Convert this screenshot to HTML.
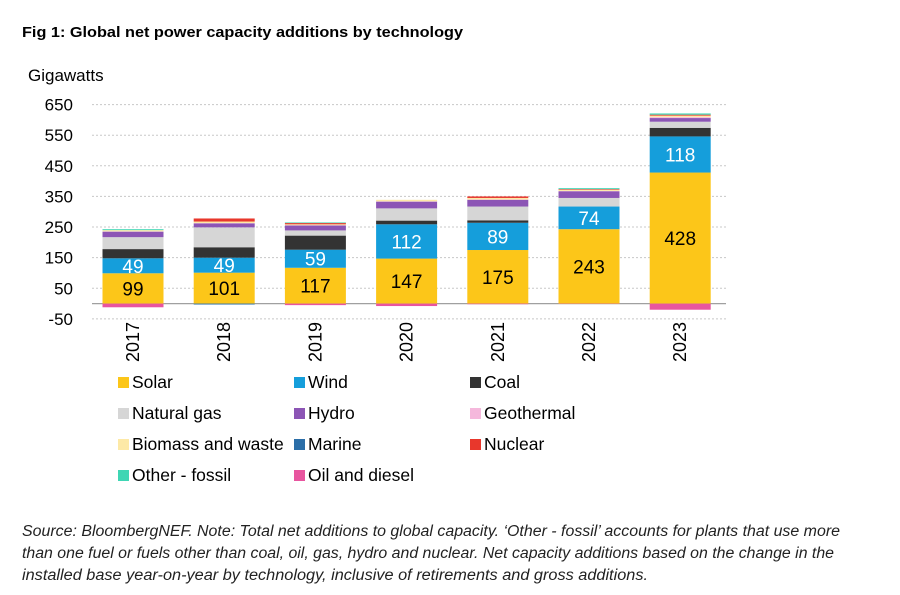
<!DOCTYPE html>
<html><head><meta charset="utf-8"><style>
body{margin:0;background:#fff;font-family:"Liberation Sans",Arial,sans-serif;}
#wrap{position:relative;width:900px;height:595px;overflow:hidden;}
</style></head><body>
<div id="wrap">
<svg id="svg" width="900" height="595" xmlns="http://www.w3.org/2000/svg">
<text x="22" y="37" font-size="15" font-weight="bold" fill="#000" textLength="441" lengthAdjust="spacingAndGlyphs">Fig 1: Global net power capacity additions by technology</text>
<text x="28" y="81" font-size="17" fill="#000">Gigawatts</text>
<g id="grid"></g><g id="bars"></g><g id="ticks"></g><g id="legend"></g>
<g font-size="15.5" font-style="italic" fill="#222">
<text x="22" y="536" textLength="818" lengthAdjust="spacingAndGlyphs">Source: BloombergNEF. Note: Total net additions to global capacity. ‘Other - fossil’ accounts for plants that use more</text>
<text x="22" y="558" textLength="812" lengthAdjust="spacingAndGlyphs">than one fuel or fuels other than coal, oil, gas, hydro and nuclear. Net capacity additions based on the change in the</text>
<text x="22" y="580" textLength="626" lengthAdjust="spacingAndGlyphs">installed base year-on-year by technology, inclusive of retirements and gross additions.</text>
</g>
</svg>
</div>
<script>
const years=["2017","2018","2019","2020","2021","2022","2023"];
const seriesNames=["Solar","Wind","Coal","Natural gas","Hydro","Geothermal","Biomass and waste","Marine","Nuclear","Other - fossil","Oil and diesel"];
const colors=["#fcc619","#159edb","#333333","#d6d6d6","#8c55b5","#f5b8dc","#fde9a6","#2b6ea8","#e8372c","#3fd6b4","#e8559f"];
const solar=[99,101,117,147,175,243,428];
const wind=[49,49,59,112,89,74,118];
const coal=[30,34,46,12,8,0,28];
const gas=[39,65,17,40,45,28,20];
const hydro=[18,13,16,22,22,22,12];
const geothermal=[1,1,1,1,1,1,3];
const biomass=[4,5,3,5,5,4,5];
const marine=[0,-3,0,0,0,0,0];
const nuclear=[0,10,4,0,5,2,3];
const otherFossil=[3,0,2,0,0,3,4];
const oil=[-12,0,-5,-8,-2,-1,-20];
const yTicks=[650,550,450,350,250,150,50,-50];
const series=[solar,wind,coal,gas,hydro,geothermal,biomass,marine,nuclear,otherFossil,oil];
const NS="http://www.w3.org/2000/svg";
const x0=92,x1=726,bw=61;
const y=v=>303.6-v*0.3062;
const xc=i=>133+i*91.2;
function mk(t,a,p){const e=document.createElementNS(NS,t);for(const k in a)e.setAttribute(k,a[k]);p.appendChild(e);return e;}
const grid=document.getElementById('grid'),ticks=document.getElementById('ticks'),bars=document.getElementById('bars'),lg=document.getElementById('legend');
yTicks.forEach(t=>{
 const l=mk('line',{x1:x0,x2:x1,y1:y(t),y2:y(t),stroke:'#c8c8c8','stroke-dasharray':'2,2'},grid);
 
 
 const tx=mk('text',{x:73,y:y(t)+6,'font-size':17,'text-anchor':'end',fill:'#000'},ticks);
 tx.textContent=t;
 
 
});
const zl=mk('line',{x1:x0,x2:x1,y1:y(0),y2:y(0),stroke:'#a0a0a0','stroke-width':1.2},grid);


years.forEach((yr,i)=>{
 let pos=0,neg=0;
 series.forEach((s,k)=>{
  const v=s[i]; if(!v)return;
  let a,b; if(v>0){a=pos;b=pos+v;pos=b;}else{a=neg+v;b=neg;neg=a;}
  const r=mk('rect',{x:xc(i)-bw/2,y:y(b),width:bw,height:y(a)-y(b),fill:colors[k]},bars);
  
  
 });
 [[solar,0,'#000'],[wind,solar,'#fff']].forEach(([s,base,c])=>{
  const b=base?base[i]:0;
  const t=mk('text',{x:xc(i),y:y(b+s[i]/2)+7,'font-size':19,'text-anchor':'middle',fill:c},bars);
  t.textContent=s[i];
  
  
 });
 const yl=mk('text',{x:0,y:0,'font-size':18,'text-anchor':'end',fill:'#000',transform:`translate(${xc(i)+6},322) rotate(-90)`},ticks);
 yl.textContent=yr;
 
 
});
const lx=[118,294,470],ly=[383,414,445,476];
seriesNames.forEach((n,k)=>{
 const cx=lx[k%3],cy=ly[Math.floor(k/3)];
 const g=mk('g',{},lg);
 
 
 mk('rect',{x:cx,y:cy-6,width:11,height:11,fill:colors[k]},g);
 const t=mk('text',{x:cx+14,y:cy+5,'font-size':17.5,fill:'#000'},g);
 t.textContent=n;
});
</script>
</body></html>
